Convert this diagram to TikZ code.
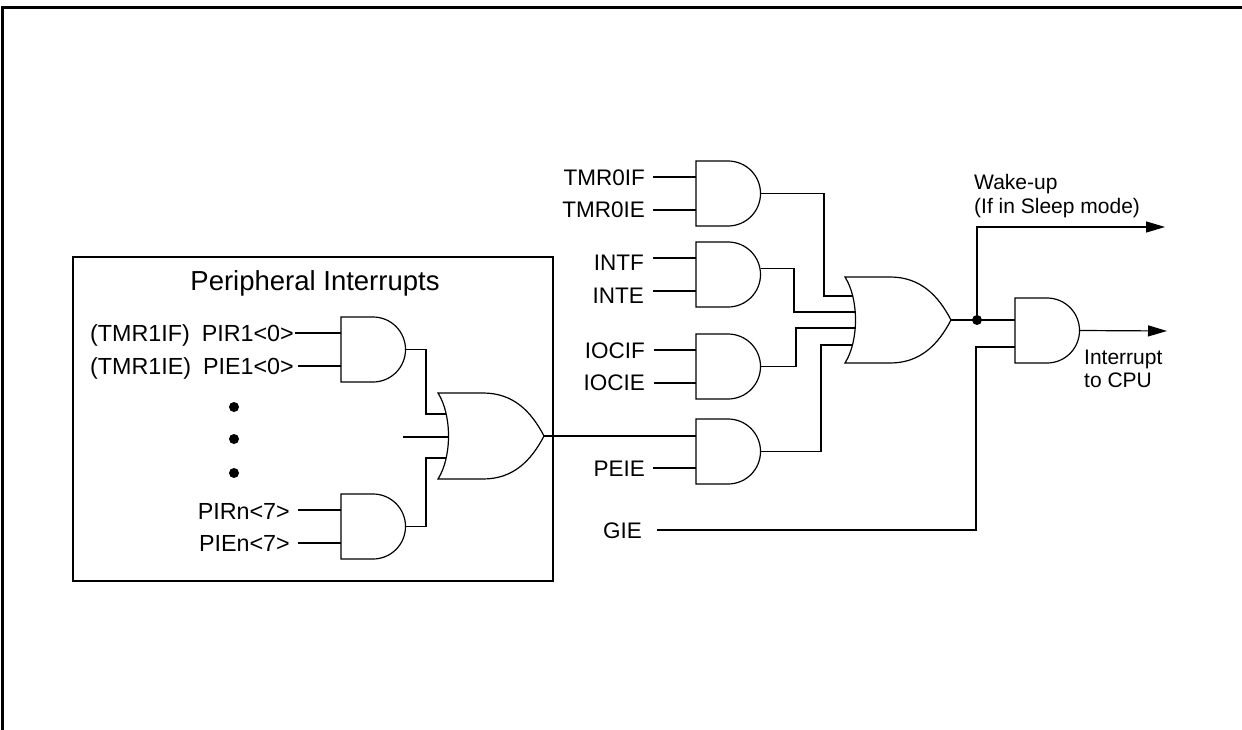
\documentclass[tikz,border=0pt]{standalone}
\usepackage{fontspec}
\setmainfont{Liberation Sans}
\usetikzlibrary{arrows.meta,calc}
\pgfdeclarelayer{bg}
\pgfsetlayers{bg,main}
\tikzset{
  wire/.style={line width=1.2pt},
  gate/.style={line width=1.2pt, fill=white, line join=miter},
  andgate/.pic={
    \draw[gate] (0,0) -- (32,0) .. controls (50,0) and (64.5,14.5) .. (64.5,32.5)
      .. controls (64.5,50.5) and (50,65) .. (32,65) -- (0,65) -- cycle;
    \coordinate (-in1) at (0,16);
    \coordinate (-in2) at (0,49);
    \coordinate (-out) at (64.5,32.5);
  },
  orgate/.pic={
    \draw[gate] (0,0) .. controls (14,22) and (14,64) .. (0,86) -- (45,86)
      .. controls (75,86) and (93,68) .. (106,43)
      .. controls (93,18) and (75,0) .. (45,0) -- cycle;
    \coordinate (-back) at (12,43);
    \coordinate (-out) at (106,43);
  },
  lbl/.style={font=\fontsize{22.5}{27}\selectfont, inner sep=0pt, anchor=base east},
  blbl/.style={font=\fontsize{23.3}{27}\selectfont, inner sep=0pt, anchor=base east},
  rlbl/.style={font=\fontsize{21}{25}\selectfont, inner sep=0pt, anchor=base west},
  title/.style={font=\fontsize{27.5}{31}\selectfont, inner sep=0pt, anchor=base},
  jdot/.style={circle, fill=black, inner sep=0pt, minimum size=10pt},
  edot/.style={circle, fill=black, inner sep=0pt, minimum size=10pt},
  outarrow/.style={wire, -{Triangle[length=19pt,width=11pt]}},
}
\begin{document}
\begin{tikzpicture}[x=1pt,y=-1pt]
\useasboundingbox (0,0) rectangle (1242,730);
% frame
\draw[line width=2.5pt] (1242,7.5) -- (2.5,7.5) -- (2.5,730);

% peripheral box
\draw[line width=1.2pt] (73,257) rectangle (553,581);
\node[title] (ptitle) at (315,290) {Peripheral Interrupts};

% gates
\pic (a1) at (341,317) {andgate};
\pic (a2) at (341,494) {andgate};
\pic (or1) at (438,393) {orgate};
\pic (g1) at (696,161) {andgate};
\pic (g2) at (696,242) {andgate};
\pic (g3) at (696,334) {andgate};
\pic (pe) at (696,419) {andgate};
\pic (or2) at (845,277) {orgate};
\pic (fa) at (1015,298) {andgate};

% input points of the OR gates (behind the curved back)
\coordinate (or1-i1) at (450,414);
\coordinate (or1-i2) at (450,437);
\coordinate (or1-i3) at (450,458);
\coordinate (or2-i1) at (857,296);
\coordinate (or2-i2) at (857,312);
\coordinate (or2-i3) at (857,328);
\coordinate (or2-i4) at (857,345);
\coordinate (stub) at (403,437);
\coordinate (fa-a) at (1015,320);
\coordinate (wakeend) at (1165,227);
\coordinate (intend) at (1167,331);
\coordinate (gieturn) at (976,530);

% ellipsis dots
\node[edot] (e1) at (234,407) {};
\node[edot] (e2) at (234,439) {};
\node[edot] (e3) at (234,473) {};

% labels
\node[blbl] (l1) at (294,341) {(TMR1IF)\hspace{12pt}PIR1<0>};
\node[blbl] (l2) at (294,374) {(TMR1IE)\hspace{12pt}PIE1<0>};
\node[blbl] (l3) at (290,519) {PIRn<7>};
\node[blbl] (l4) at (290,551) {PIEn<7>};
\node[lbl] (t1) at (645,186) {TMR0IF};
\node[lbl] (t2) at (645,218) {TMR0IE};
\node[lbl] (t3) at (644,270) {INTF};
\node[lbl] (t4) at (644,303) {INTE};
\node[lbl] (t5) at (645,358) {IOCIF};
\node[lbl] (t6) at (645,390) {IOCIE};
\node[lbl] (t7) at (645,476) {PEIE};
\node[lbl] (t8) at (642,538) {GIE};
\node[rlbl] (w1) at (974,190) {Wake-up};
\node[rlbl] (w2) at (974,214) {(If in Sleep mode)};
\node[rlbl] (c1) at (1084,364) {Interrupt};
\node[rlbl] (c2) at (1084,387) {to CPU};

\node[jdot] (jd) at (977,320) {};

\begin{pgfonlayer}{bg}
% input wires
\draw[wire] (a1-in1 -| l1.east) ++(1,0) -- (a1-in1);
\draw[wire] (a1-in2 -| l2.east) ++(4,0) -- (a1-in2);
\draw[wire] (a2-in1 -| l3.east) ++(8,0) -- (a2-in1);
\draw[wire] (a2-in2 -| l4.east) ++(8,0) -- (a2-in2);
\draw[wire] (g1-in1 -| t1.east) ++(8,0) -- (g1-in1);
\draw[wire] (g1-in2 -| t2.east) ++(8,0) -- (g1-in2);
\draw[wire] (g2-in1 -| t3.east) ++(9,0) -- (g2-in1);
\draw[wire] (g2-in2 -| t4.east) ++(9,0) -- (g2-in2);
\draw[wire] (g3-in1 -| t5.east) ++(9,0) -- (g3-in1);
\draw[wire] (g3-in2 -| t6.east) ++(9,0) -- (g3-in2);
\draw[wire] (pe-in2 -| t7.east) ++(8,0) -- (pe-in2);
% peripheral OR
\draw[wire] (a1-out) -| (426,414) -- (or1-i1);
\draw[wire] (stub) -- (or1-i2);
\draw[wire] (a2-out) -| (426,458) -- (or1-i3);
\draw[wire] (or1-out) -- (pe-in1 |- or1-out);
% to main OR
\draw[wire] (g1-out) -| (824,296) -- (or2-i1);
\draw[wire] ([yshift=6pt]g2-out) -| (794,312) -- (or2-i2);
\draw[wire] (g3-out) -| (796,328) -- (or2-i3);
\draw[wire] (pe-out) -| (821,345) -- (or2-i4);
% outputs
\draw[wire] (or2-out) -- (jd.center) -- (fa-a);
\draw[outarrow] (jd.center) |- (wakeend);
\draw[outarrow] (fa-out) -- (intend);
\draw[wire] (t8.east |- gieturn) ++(15,0) -- (gieturn) |- (fa-in2);
\end{pgfonlayer}
\end{tikzpicture}
\end{document}
